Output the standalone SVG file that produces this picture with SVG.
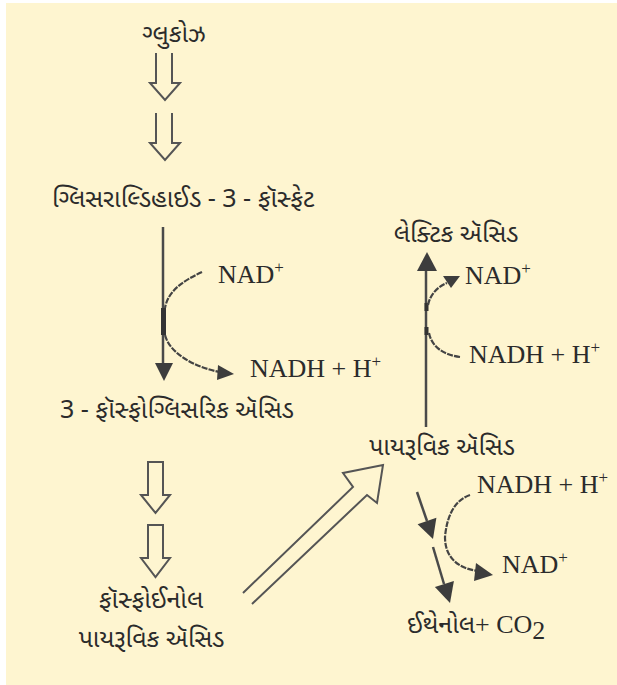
<svg xmlns="http://www.w3.org/2000/svg" width="617" height="685" viewBox="0 0 617 685">
<style>
.g{font-family:"Noto Sans Gujarati","Lohit Gujarati","Noto Sans","DejaVu Sans",sans-serif;font-size:25px;fill:#2b2b2b}
.s{font-family:"Liberation Serif","Times New Roman",serif;font-size:26px;fill:#2b2b2b}
.sup{font-size:17px}
.hol{fill:none;stroke:#555;stroke-width:2;stroke-linejoin:miter}
.ln{stroke:#4a4a4a;stroke-width:2.5;fill:none}
.dash{stroke:#444;stroke-width:2.2;fill:none;stroke-dasharray:6 1.2}
.hd{fill:#3d3d3d}
</style>
<rect x="6" y="3" width="611" height="682" fill="#fef5d0"/>
<g id="glucose"><text class="g" x="174" y="42" text-anchor="middle" font-size="23.5">ગ્લુકોઝ</text></g>
<g id="g3p"><text class="g" x="52" y="207">ગ્લિસરાલ્ડિહાઈડ - 3 - ફૉસ્ફેટ</text></g>
<g id="pga"><text class="g" x="60" y="418" font-size="26">3 - ફૉસ્ફોગ્લિસરિક ઍસિડ</text></g>
<g id="pep"><text class="g" x="151" y="608" text-anchor="middle" font-size="26">ફૉસ્ફોઈનોલ</text><text class="g" x="151.5" y="647" text-anchor="middle" font-size="27">પાયરૂવિક ઍસિડ</text></g>
<g id="pyruvate"><text class="g" x="442" y="455" text-anchor="middle" font-size="27">પાયરૂવિક ઍસિડ</text></g>
<g id="lactate"><text class="g" x="456" y="242" text-anchor="middle" font-size="26">લેક્ટિક ઍસિડ</text></g>
<g id="ethanol"><text class="g" x="407" y="633">ઈથેનોલ<tspan class="s">+ CO</tspan><tspan class="s" font-size="17" dy="6">2</tspan></text></g>
<g id="nad1"><text class="s" x="218" y="283">NAD<tspan class="sup" dy="-10">+</tspan></text></g>
<g id="nadh1"><text class="s" x="250" y="377">NADH + H<tspan class="sup" dy="-10">+</tspan></text></g>
<g id="nad2"><text class="s" x="465" y="284">NAD<tspan class="sup" dy="-10">+</tspan></text></g>
<g id="nadh2"><text class="s" x="469" y="363">NADH + H<tspan class="sup" dy="-10">+</tspan></text></g>
<g id="nadh3"><text class="s" x="477" y="493">NADH + H<tspan class="sup" dy="-10">+</tspan></text></g>
<g id="nad3"><text class="s" x="502" y="573">NAD<tspan class="sup" dy="-10">+</tspan></text></g>
<g id="connectors">
<path class="hol" d="M156,53 V83 H150 L165,100 L180,83 H172 V53"/>
<path class="hol" d="M156,113 V143 H150 L165,160 L180,143 H172 V113"/>
<path class="hol" d="M148,462 H163 V495 H170 L155.5,513 L141,495 H148 Z"/>
<path class="hol" d="M148,525 H163 V558 H170 L155.5,577 L141,558 H148 Z"/>
<path class="hol" d="M243,593 L353,487 L343,473 L383,465 L377,503 L367,495 L252,604"/>
<line class="ln" x1="163" y1="227" x2="163" y2="365"/>
<rect x="161" y="308" width="5" height="27" fill="#333"/>
<polygon class="hd" points="155,363 173,363 164,381"/>
<path class="dash" d="M202,272 C185,280 168,290 165,308"/>
<path class="dash" d="M165,335 C170,355 198,368 220,372"/>
<polygon class="hd" points="218,365 234,374 217,380"/>
<line class="ln" x1="426" y1="427" x2="426" y2="268"/>
<polygon class="hd" points="417,271 437,271 427,252"/>
<rect x="424.5" y="303" width="4" height="8" fill="#333"/>
<rect x="424.5" y="327" width="4" height="8" fill="#333"/>
<path class="dash" d="M428,305 C430,295 437,287 447,283"/>
<path class="dash" d="M460,357 C445,355 432,348 429,333"/>
<polygon class="hd" points="443,276 460,276 451,288"/>
<path class="dash" d="M470,495 C455,500 447,515 445,537 C445,555 455,568 478,571"/>
<polygon class="hd" points="476,563 493,575 474,581"/>
<line class="ln" x1="417" y1="492" x2="427" y2="521"/>
<polygon class="hd" points="417.6,524.3 436.4,517.7 433,539"/>
<line class="ln" x1="433" y1="547" x2="444" y2="584"/>
<polygon class="hd" points="434.9,586.9 453.9,580.9 450,603"/>
</g>
</svg>
